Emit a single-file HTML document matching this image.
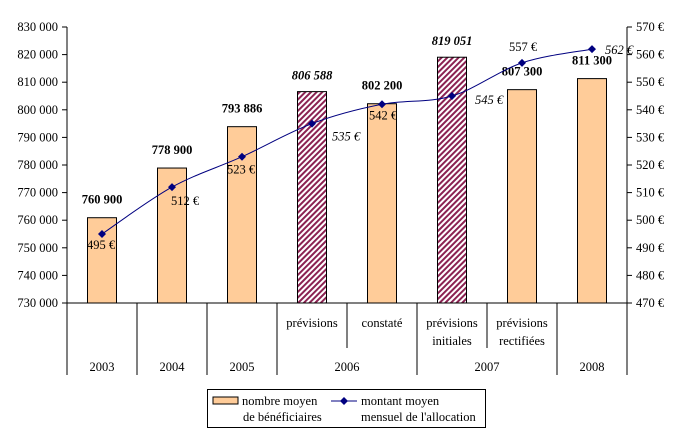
<!DOCTYPE html>
<html><head><meta charset="utf-8"><style>
body{margin:0;background:#fff}
svg text{font-family:"Liberation Serif",serif;font-size:12.5px;fill:#000}
</style></head><body>
<svg id="c" width="683" height="437">
<defs><pattern id="hatch" width="4" height="4" patternUnits="userSpaceOnUse" patternTransform="rotate(45)"><rect width="4" height="4" fill="#fff"/><rect width="2" height="4" fill="#8b2252"/></pattern></defs>
</svg>
<script>
const cats=["2003","2004","2005","prévisions 2006","constaté 2006","prévisions initiales 2007","prévisions rectifiées 2007","2008"];
const benef=[760900,778900,793886,806588,802200,819051,807300,811300];
const benefLabels=["760 900","778 900","793 886","806 588","802 200","819 051","807 300","811 300"];
const hatched=[false,false,false,true,false,true,false,false];
const alloc=[495,512,523,535,542,545,557,562];
const leftTicks=[730000,740000,750000,760000,770000,780000,790000,800000,810000,820000,830000];
const rightTicks=[470,480,490,500,510,520,530,540,550,560,570];
const NS="http://www.w3.org/2000/svg",svg=document.getElementById('c');
const X0=67,CW=70,Y0=303,Y1=27;
const xc=i=>X0+CW*(i+0.5);
const yl=v=>Y0-(v-730000)/100000*(Y0-Y1);
const yr=v=>Y0-(v-470)/100*(Y0-Y1);
function mk(t,a,p){const e=document.createElementNS(NS,t);for(const k in a)e.setAttribute(k,a[k]);(p||svg).appendChild(e);return e;}
function tx(x,y,s,a,p){const e=mk('text',Object.assign({x:x,y:y},a||{}),p);e.textContent=s;return e;}
let e=mk('line',{x1:X0,y1:Y1,x2:X0,y2:Y0,stroke:'#000'});
e=mk('line',{x1:X0+CW*8,y1:Y1,x2:X0+CW*8,y2:Y0,stroke:'#000'});
leftTicks.forEach(v=>{mk('line',{x1:X0-5,x2:X0,y1:yl(v),y2:yl(v),stroke:'#000'});
 const t=tx(X0-9,yl(v)+4,v.toLocaleString('fr-FR').replace(/\s/g,' '),{'text-anchor':'end'});});
rightTicks.forEach(v=>{mk('line',{x1:X0+CW*8,x2:X0+CW*8+5,y1:yr(v),y2:yr(v),stroke:'#000'});
 const t=tx(X0+CW*8+9,yr(v)+4,v+' €');});
benef.forEach((v,i)=>{const r=mk('rect',{x:xc(i)-14.5,y:yl(v),width:29,height:Y0-yl(v),fill:hatched[i]?'url(#hatch)':'#ffcc99',stroke:'#000'});
 
 const t=tx(xc(i),yl(v)-(hatched[i]?12:14),benefLabels[i],{'text-anchor':'middle','font-weight':'bold','font-size':'13.5','font-style':hatched[i]?'italic':'normal'});
 });
mk('line',{x1:X0,x2:X0+CW*8,y1:Y0,y2:Y0,stroke:'#000'});
const full=[0,1,2,3,5,7,8],half=[4,6];
full.forEach(k=>mk('line',{x1:X0+CW*k,x2:X0+CW*k,y1:Y0,y2:375,stroke:'#000'}));
half.forEach(k=>mk('line',{x1:X0+CW*k,x2:X0+CW*k,y1:Y0,y2:348,stroke:'#000'}));
[["prévisions",""],["constaté",""],["prévisions","initiales"],["prévisions","rectifiées"]].forEach((s,j)=>{
 tx(xc(3+j),327,s[0],{'text-anchor':'middle'});if(s[1])tx(xc(3+j),345,s[1],{'text-anchor':'middle'});});
[["2003",0],["2004",1],["2005",2],["2006",3.5],["2007",5.5],["2008",7]].forEach(s=>{const t=tx(xc(s[1]),371,s[0],{'text-anchor':'middle'});});
const pts=alloc.map((v,i)=>[xc(i),yr(v)]);
let d='M'+pts[0];for(let i=0;i<pts.length-1;i++){const p0=pts[i-1]||pts[i],p1=pts[i],p2=pts[i+1],p3=pts[i+2]||p2;
 d+=` C${p1[0]+(p2[0]-p0[0])/6},${p1[1]+(p2[1]-p0[1])/6} ${p2[0]-(p3[0]-p1[0])/6},${p2[1]-(p3[1]-p1[1])/6} ${p2[0]},${p2[1]}`;}
e=mk('path',{d:d,fill:'none',stroke:'#000080','stroke-width':1});
const off=[[-15,15,0],[-1,18,0],[-15,17,0],[20,17,1],[-13,15,0],[23,8,1],[-13,-12,0],[13,5,1]];
pts.forEach((p,i)=>{const m=mk('path',{d:`M${p[0]},${p[1]-4}l4,4l-4,4l-4,-4z`,fill:'#000080'});
 const t=tx(p[0]+off[i][0],p[1]+off[i][1],alloc[i]+' €',{'font-style':off[i][2]?'italic':'normal','font-size':'12.5'});});
const g=mk('g',{});
mk('rect',{x:207.5,y:389.5,width:278,height:38,fill:'#fff',stroke:'#000'},g);
mk('rect',{x:213,y:397,width:25,height:7,fill:'#ffcc99',stroke:'#000'},g);
tx(242,405,'nombre moyen',{},g);tx(243,421,'de bénéficiaires',{},g);
mk('line',{x1:331,x2:357,y1:401,y2:401,stroke:'#000080'},g);
mk('path',{d:'M344,397l4,4l-4,4l-4,-4z',fill:'#000080'},g);
tx(361,405,'montant moyen',{},g);tx(361,421,"mensuel de l'allocation",{},g);
</script>
</body></html>
